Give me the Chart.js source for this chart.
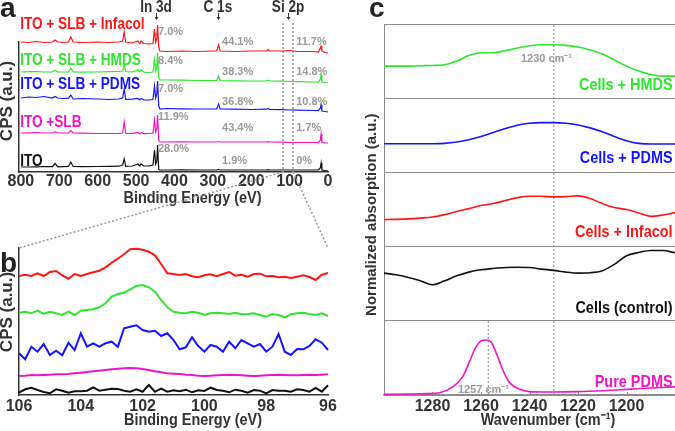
<!DOCTYPE html>
<html>
<head>
<meta charset="utf-8">
<script src="https://cdn.jsdelivr.net/npm/chart.js@4.4.1/dist/chart.umd.min.js"></script>
<style>
  html, body { margin: 0; padding: 0; background: #fff; }
  #fig { position: relative; width: 675px; height: 431px; overflow: hidden; }
  #fig canvas { position: absolute; }
</style>
</head>
<body>
<div id="fig">
  <canvas id="chartA" width="340" height="210" style="left:0;top:0"></canvas>
  <canvas id="chartB" width="340" height="221" style="left:0;top:210px"></canvas>
  <canvas id="chartC" width="335" height="431" style="left:340px;top:0"></canvas>
  <canvas id="overlay" width="675" height="431" style="left:0;top:0"></canvas>
</div>
<script>
Chart.defaults.animation = false;
Chart.defaults.responsive = false;
Chart.defaults.plugins.legend.display = false;
Chart.defaults.plugins.tooltip.enabled = false;

const SANS = "'Liberation Sans', Arial, sans-serif";
const SQUEEZE = 0.85; // no condensed face installed, so labels get squeezed by hand
const RED = '#ff1414', GREEN = '#2ee62e', BLUE = '#1414ff', MAGENTA = '#f014c8', BLACK = '#111111';
const GREY = '#9a9a9a', INK = '#333333', FRAME = '#8c8c8c';

// ---- panel a: XPS survey (stacked, arbitrary offsets) ----
const surveyEnergy = [800, 780, 760, 740, 718, 711, 704, 690, 676, 670, 664, 640, 600, 570, 545, 535, 531, 527, 510, 495,
  490, 487, 480, 465, 456, 452, 449, 446, 444, 441, 438, 420, 380, 340, 300, 290, 285, 281, 240, 200,
  160, 156, 152, 120, 100, 80, 40, 25, 20, 18, 16, 8, 0];
const surveyInfacol = [130, 129.5, 130.5, 129.5, 130, 132, 130, 129.5, 130, 135, 130, 129.5, 130, 129.5, 130, 131, 140, 130, 129, 131,
  128.5, 131, 128.5, 128, 128.5, 143, 130, 133, 147, 125, 121, 120.5, 121, 120.5, 121, 121, 127, 121, 120.5, 121,
  121, 122.5, 121, 121, 121.5, 120.5, 120.5, 120, 124, 126, 121, 119.5, 119];
const surveyHmds = [100, 100.3, 100.5, 100, 100.2, 101.5, 100, 100, 100.2, 104, 100, 99.8, 100, 100.3, 100.5, 101, 107, 100.5, 100, 102,
  100, 102, 99.8, 99.5, 100, 112, 101, 104, 119, 94, 92, 92, 91.8, 91.5, 91.5, 91.5, 96, 91.5, 91.2, 91,
  91.2, 91.8, 91, 90.8, 90.5, 90.3, 90, 89.8, 93, 97, 90, 89.5, 89];
const surveyPdms = [74, 75, 74.5, 75.5, 74, 75.5, 74, 73.5, 73.8, 77, 73, 73.5, 73, 72.5, 73, 74, 83, 72.5, 72.8, 73.5,
  72, 73.5, 72, 72, 72.5, 86, 74, 78, 91, 66, 63, 63.5, 63.2, 63, 63, 63, 68, 63, 62.8, 62.5,
  62.8, 63.5, 62.5, 62.3, 62, 61.8, 61.5, 61.3, 64, 67, 61, 60.5, 60];
const surveySlb = [39, 39.2, 39.5, 39, 39.2, 40, 39, 39, 39.2, 41.5, 39, 38.8, 38.5, 38.5, 38.7, 39, 50, 38.5, 38.7, 39.5,
  38, 39.5, 38.3, 38.5, 38.8, 52, 40, 44, 57, 32, 30, 30, 30.2, 30, 30, 30, 30.5, 30, 30, 30,
  30, 30.3, 30, 29.8, 29.5, 29.5, 29.5, 29.3, 32, 38, 29.5, 29.2, 29];
const surveyIto = [5, 5, 5.2, 5.5, 5.3, 8.5, 5.2, 5.3, 5.5, 10, 5.5, 5.4, 5.5, 5.6, 5.8, 7, 13, 5.6, 6, 8,
  6, 8, 6, 6.2, 7, 22, 8, 11, 27, 2.5, 2, 2, 2.1, 2, 2, 2, 2.6, 2, 2, 2,
  2, 2.3, 2, 2, 2, 2, 2, 2.2, 4, 9, 2, 1.5, 1];
const surveyTicks = [800, 700, 600, 500, 400, 300, 200, 100, 0];
const sampleNames = ['ITO + SLB + Infacol', 'ITO + SLB + HMDS', 'ITO + SLB + PDMS', 'ITO +SLB', 'ITO'];
const inPct = ['7.0%', '8.4%', '7.0%', '11.9%', '28.0%'];
const cPct = ['44.1%', '38.3%', '36.8%', '43.4%', '1.9%'];
const siPct = ['11.7%', '14.8%', '10.8%', '1.7%', '0%'];
const siWindow = [117, 91];

// ---- panel b: Si 2p high resolution ----
const siEnergy = [106, 105.8, 105.6, 105.4, 105.2, 105, 104.8, 104.6, 104.4, 104.2, 104, 103.8, 103.6, 103.4, 103.2, 103, 102.8,
  102.6, 102.4, 102.2, 102, 101.8, 101.6, 101.4, 101.2, 101, 100.8, 100.6, 100.4, 100.2, 100, 99.8, 99.6, 99.4,
  99.2, 99, 98.8, 98.6, 98.4, 98.2, 98, 97.8, 97.6, 97.4, 97.2, 97, 96.8, 96.6, 96.4, 96.2, 96];
const siInfacol = [119, 120.3, 119, 121.7, 119, 123, 124, 119.7, 116.3, 121, 119, 121, 122.7, 124.3, 127.7, 132.3, 136.3,
  140.7, 145.7, 146.3, 145.3, 143.3, 139.7, 131, 121.7, 121, 120, 121, 118.7, 117.7, 119.7, 120.7, 118.7, 121,
  123, 119.3, 120.3, 118.3, 121, 121.3, 118.7, 119, 117.7, 118.3, 117, 118.3, 119.7, 118, 115, 120.3, 122];
const siHmds = [82.3, 83.3, 81.7, 84.3, 81, 83.3, 81.7, 80, 83.3, 80, 84.3, 85, 85.7, 87.7, 91.7, 98.3, 101,
  102.3, 105.7, 109, 110, 107.7, 103.3, 95, 87.7, 83.3, 82.3, 81.7, 83.3, 82.3, 80, 81.7, 82.3, 81.7,
  81, 82.3, 80.7, 81, 81.7, 80, 78.3, 81, 80, 77.7, 80.7, 81.7, 82.3, 81, 80, 81.7, 79];
const siPdms = [41.7, 35.7, 48.3, 43.3, 51, 40, 44.3, 39.7, 52.3, 45, 61.7, 48.3, 51.7, 48.3, 51.7, 53.3, 48.3,
  66.7, 68.3, 69.7, 65, 63.3, 64.3, 59, 61.7, 55, 45.7, 47.7, 57.7, 49, 43.3, 50, 48.3, 43.3,
  53.3, 46.7, 55, 51.7, 48.3, 51, 43.3, 48.3, 61, 43.3, 40, 46, 45.7, 49, 55.7, 52.3, 45];
const siSlb = [19, 19.3, 20, 19.7, 20, 20.3, 20.7, 20.7, 21, 21.7, 22.3, 23, 23.7, 24.3, 25, 25.7, 26.3,
  26.7, 27, 26.7, 26, 25, 23.7, 22.7, 21.7, 21.3, 21, 20.3, 20, 19.3, 19, 19.3, 19.7, 20,
  20.3, 20, 19.7, 19.3, 19, 19.3, 19.7, 20, 20.3, 20, 19.7, 19.7, 20, 20.3, 20, 20.3, 20.7];
const siIto = [2.3, 5.7, 7.3, 5, 3, 1.7, 5.7, 4.3, 2.3, 3.7, 3.7, 4.3, 7.7, 4.3, 5.3, 6.3, 6,
  4.3, 3.3, 5.7, 3.3, 10, 3.3, 6.3, 3.3, 4.7, 3.7, 5.3, 2.7, 4.7, 4, 7.3, 5, 4.3,
  2.7, 5.3, 4.3, 2.3, 5, 4.3, 1.7, 5, 4.3, 4.3, 3.3, 5.7, 5, 3.3, 7, 3.3, 9.7];
const siTicks = [106, 104, 102, 100, 98, 96];

// ---- panel c: FTIR, normalised per sub-panel ----
const wavenumber = [1300, 1295, 1290, 1285, 1280, 1275, 1270, 1265, 1260, 1255, 1250, 1245, 1240,
  1235, 1230, 1225, 1220, 1215, 1210, 1205, 1200, 1195, 1190, 1185, 1180];
const irHmds = [.432, .432, .432, .437, .441, .45, .5, .575, .613, .613, .64, .676, .707,
  .721, .721, .712, .689, .649, .595, .514, .432, .365, .32, .297, .297];
const irPdms = [.387, .387, .387, .387, .387, .391, .409, .44, .484, .538, .591, .636, .662,
  .671, .671, .662, .64, .6, .547, .484, .427, .391, .382, .382, .382];
const irInfacol = [.364, .367, .373, .384, .398, .431, .472, .512, .553, .58, .62, .66, .678,
  .678, .67, .674, .683, .647, .58, .526, .499, .454, .408, .425, .458];
const irControl = [.643, .62, .584, .539, .485, .539, .606, .656, .687, .705, .718, .721, .718,
  .697, .68, .656, .643, .647, .674, .761, .876, .92, .947, .947, .916];
// pure PDMS is read more finely around its narrow band
const pureWavenumber = [1300, 1290, 1282.5, 1277, 1271.5, 1267.5, 1265, 1262, 1260, 1258, 1256, 1253.5,
  1251, 1248.5, 1244, 1240, 1235, 1230, 1220, 1210, 1200, 1190, 1180];
const irPure = [.009, .013, .018, .031, .112, .247, .43, .651, .728, .741, .719, .55,
  .337, .18, .077, .045, .04, .04, .045, .058, .076, .095, .11];
const wnTicks = [1280, 1260, 1240, 1220, 1200];
const irNames = ['Cells + HMDS', 'Cells + PDMS', 'Cells + Infacol', 'Cells (control)', 'Pure PDMS'];
const irColors = [GREEN, BLUE, RED, BLACK, MAGENTA];
const irMarks = [1230, 1257];

function points(xs, ys) {
  return xs.map((x, i) => ({ x: x, y: ys[i] }));
}

function trace(xs, ys, color, width, axis) {
  return {
    data: points(xs, ys),
    borderColor: color,
    borderWidth: width,
    pointRadius: 0,
    fill: false,
    clip: false,
    yAxisID: axis || 'y'
  };
}

function makeNotes(cfg) {
  return {
    id: 'notes',
    beforeDatasetsDraw(chart) {
      const ctx = chart.ctx, xs = chart.scales.x, area = chart.chartArea;
      ctx.save();
      (cfg.guides || []).forEach(g => {
        const px = xs.getPixelForValue(g.x);
        ctx.beginPath();
        ctx.setLineDash([2, 2]);
        ctx.lineWidth = g.width || 1;
        ctx.strokeStyle = g.color || GREY;
        ctx.moveTo(px, chart.scales[g.axis0 || 'y'].getPixelForValue(g.y0));
        ctx.lineTo(px, chart.scales[g.axis1 || 'y'].getPixelForValue(g.y1));
        ctx.stroke();
      });
      ctx.setLineDash([]);
      // short inward tick marks on the bottom axis
      (cfg.innerTicks || []).forEach(v => {
        const px = Math.round(xs.getPixelForValue(v)) + 0.5;
        ctx.beginPath();
        ctx.lineWidth = 1;
        ctx.strokeStyle = FRAME;
        ctx.moveTo(px, area.bottom);
        ctx.lineTo(px, area.bottom - 3);
        ctx.stroke();
      });
      ctx.restore();
    },
    afterDatasetsDraw(chart) {
      const ctx = chart.ctx, xs = chart.scales.x, area = chart.chartArea;
      ctx.save();
      (cfg.arrows || []).forEach(a => {
        const ys = chart.scales.y;
        const px = Math.round(xs.getPixelForValue(a.x)) + 0.5;
        const top = ys.getPixelForValue(a.y0), tip = ys.getPixelForValue(a.y1);
        ctx.strokeStyle = INK;
        ctx.fillStyle = INK;
        ctx.lineWidth = 1;
        ctx.beginPath();
        ctx.moveTo(px, top);
        ctx.lineTo(px, tip - 2);
        ctx.stroke();
        ctx.beginPath();
        ctx.moveTo(px - 2, tip - 3);
        ctx.lineTo(px + 2, tip - 3);
        ctx.lineTo(px, tip);
        ctx.closePath();
        ctx.fill();
      });
      (cfg.texts || []).forEach(t => {
        let px, py;
        if (t.below != null) {
          // axis title: centred under the plot, shifted like the original
          px = (area.left + area.right) / 2 + (t.dx || 0);
          py = area.bottom + t.below;
        } else {
          px = xs.getPixelForValue(t.x);
          py = chart.scales[t.axis || 'y'].getPixelForValue(t.y);
        }
        ctx.save();
        ctx.font = t.font;
        ctx.fillStyle = t.color;
        ctx.textBaseline = 'middle';
        ctx.translate(px, py);
        if (t.rotate) {
          ctx.rotate(-Math.PI / 2);
          ctx.textAlign = 'center';
        } else {
          ctx.textAlign = t.align || 'left';
        }
        if (t.squeeze) ctx.scale(SQUEEZE, 1);
        ctx.fillText(t.text, 0, 0);
        ctx.restore();
      });
      ctx.restore();
    }
  };
}

function xAxis(min, max, tickList, height, pad, borderColor) {
  return {
    type: 'linear',
    reverse: true,
    min: min,
    max: max,
    afterBuildTicks: s => { s.ticks = tickList.map(v => ({ value: v })); },
    afterFit: s => { s.height = height; },
    grid: { display: false, drawTicks: false },
    border: { color: borderColor, width: 1.5 },
    ticks: {
      padding: pad, color: INK, autoSkip: false, maxRotation: 0,
      font: { family: SANS, size: 16, weight: 'bold' },
      callback: v => String(v)
    }
  };
}

function plainY(max) {
  return {
    type: 'linear',
    min: 0,
    max: max,
    afterFit: s => { s.width = 0; },
    grid: { display: false, drawTicks: false },
    border: { color: INK, width: 1.5 },
    ticks: { display: false }
  };
}

const colors = [RED, GREEN, BLUE, MAGENTA, BLACK];
const labelFont = `bold 16px ${SANS}`;
const titleFont = `bold 17px ${SANS}`;
const pctFont = `bold 11px ${SANS}`;

// panel a
const nameY = [147, 111, 87, 49, 10];
const inY = [140, 111, 83, 55, 23];
const baseY = [130, 100, 70, 44, 11];
const textsA = [];
sampleNames.forEach((n, i) => textsA.push({ text: n, x: 802, y: nameY[i], color: colors[i], font: labelFont, squeeze: true }));
inPct.forEach((p, i) => textsA.push({ text: p, x: 443, y: inY[i], color: GREY, font: pctFont }));
cPct.forEach((p, i) => textsA.push({ text: p, x: 276, y: baseY[i], color: GREY, font: pctFont }));
siPct.forEach((p, i) => textsA.push({ text: p, x: 83, y: baseY[i], color: GREY, font: pctFont }));
textsA.push({ text: 'In 3d', x: 448, y: 164, color: INK, font: labelFont, align: 'center', squeeze: true });
textsA.push({ text: 'C 1s', x: 287, y: 164, color: INK, font: labelFont, align: 'center', squeeze: true });
textsA.push({ text: 'Si 2p', x: 104, y: 164, color: INK, font: labelFont, align: 'center', squeeze: true });
textsA.push({ text: 'CPS (a.u.)', x: 836, y: 71, color: INK, font: `bold 17px ${SANS}`, rotate: true });
textsA.push({ text: 'Binding Energy (eV)', below: 26, dx: 19, color: INK, font: titleFont, align: 'center', squeeze: true });

const chartA = new Chart(document.getElementById('chartA'), {
  type: 'line',
  data: {
    datasets: [
      trace(surveyEnergy, surveyInfacol, RED, 1.2),
      trace(surveyEnergy, surveyHmds, GREEN, 1.2),
      trace(surveyEnergy, surveyPdms, BLUE, 1.2),
      trace(surveyEnergy, surveySlb, MAGENTA, 1.2),
      trace(surveyEnergy, surveyIto, BLACK, 1.2)
    ]
  },
  options: {
    layout: { padding: { left: 19, right: 12, top: 42, bottom: 0 } },
    scales: {
      x: xAxis(0, 805, surveyTicks, 38, 0, INK),
      y: plainY(130)
    }
  },
  plugins: [makeNotes({
    guides: siWindow.map(e => ({ x: e, y0: 149, y1: 0, width: 1.5 })),
    arrows: [{ x: 448, y0: 159, y1: 152 }, { x: 287, y0: 159, y1: 152 }, { x: 104, y0: 159, y1: 152 }],
    texts: textsA
  })]
});

// panel b
const chartB = new Chart(document.getElementById('chartB'), {
  type: 'line',
  data: {
    datasets: [
      trace(siEnergy, siInfacol, RED, 2),
      trace(siEnergy, siHmds, GREEN, 2),
      trace(siEnergy, siPdms, BLUE, 2),
      trace(siEnergy, siSlb, MAGENTA, 2),
      trace(siEnergy, siIto, BLACK, 2)
    ]
  },
  options: {
    layout: { padding: { left: 19, right: 12, top: 38, bottom: 0 } },
    scales: {
      x: xAxis(96, 106, siTicks, 36, 2, INK),
      y: plainY(147)
    }
  },
  plugins: [makeNotes({
    texts: [
      { text: 'CPS (a.u.)', x: 106.39, y: 83, color: INK, font: `bold 17px ${SANS}`, rotate: true },
      { text: 'Binding Energy (eV)', below: 25, dx: 19.5, color: INK, font: titleFont, align: 'center', squeeze: true }
    ]
  })]
});

// panel c
function irAxis() {
  return {
    type: 'linear',
    position: 'left',
    stack: 'ir',
    stackWeight: 1,
    min: 0,
    max: 1,
    afterFit: s => { s.width = 0; },
    grid: { color: FRAME, drawTicks: false },
    border: { color: FRAME },
    ticks: { display: false, stepSize: 1 }
  };
}
const irAxes = ['yH', 'yP', 'yI', 'yC', 'yU'];
const irLabelY = [0.175, 0.19, 0.19, 0.175, 0.175];
const textsC = irNames.map((n, i) => ({
  text: n, x: 1181, y: irLabelY[i], axis: irAxes[i], color: irColors[i],
  font: `bold 17px ${SANS}`, align: 'right', squeeze: true
}));
textsC.push({ text: '1230 cm⁻¹', x: 1233, y: 0.526, axis: 'yH', color: GREY, font: `bold 11px ${SANS}`, align: 'center' });
textsC.push({ text: '1257 cm⁻¹', x: 1259, y: 0.07, axis: 'yU', color: GREY, font: `bold 11px ${SANS}`, align: 'center' });
textsC.push({ text: 'Normalized absorption (a.u.)', x: 1305, y: 0.43, axis: 'yI', color: INK, font: `bold 15px ${SANS}`, rotate: true });
textsC.push({ text: 'Wavenumber (cm⁻¹)', below: 25, dx: 18.5, color: INK, font: titleFont, align: 'center', squeeze: true });

const smooth = { cubicInterpolationMode: 'monotone' };
const chartC = new Chart(document.getElementById('chartC'), {
  type: 'line',
  data: {
    datasets: [
      Object.assign(trace(pureWavenumber, irPure, MAGENTA, 1.6, 'yU'), smooth),
      Object.assign(trace(wavenumber, irControl, BLACK, 1.6, 'yC'), smooth),
      Object.assign(trace(wavenumber, irInfacol, RED, 1.6, 'yI'), smooth),
      Object.assign(trace(wavenumber, irPdms, BLUE, 1.6, 'yP'), smooth),
      Object.assign(trace(wavenumber, irHmds, GREEN, 1.6, 'yH'), smooth)
    ]
  },
  options: {
    layout: { padding: { left: 44, right: 0, top: 24, bottom: 0 } },
    scales: {
      x: xAxis(1180, 1300, wnTicks, 36, 1.5, FRAME),
      yU: irAxis(),
      yC: irAxis(),
      yI: irAxis(),
      yP: irAxis(),
      yH: irAxis()
    }
  },
  plugins: [makeNotes({
    guides: [
      { x: irMarks[0], y0: 0, axis0: 'yU', y1: 1, axis1: 'yH', color: '#8a8a8a' },
      { x: irMarks[1], y0: 0, axis0: 'yU', y1: 1, axis1: 'yU', color: '#8a8a8a' }
    ],
    innerTicks: wnTicks,
    texts: textsC
  })]
});

// overlay: panel letters and zoom connectors from a to b
const ov = document.getElementById('overlay').getContext('2d');
ov.font = `bold 28px ${SANS}`;
ov.fillStyle = '#222222';
ov.fillText('a', 0, 17);
ov.fillText('b', 0, 272);
ov.fillText('c', 369, 17);
const ax = chartA.scales.x, aBottom = chartA.chartArea.bottom;
const bArea = chartB.chartArea, bTop = 210;
ov.setLineDash([2, 2]);
ov.strokeStyle = GREY;
ov.lineWidth = 1.5;
ov.beginPath();
ov.moveTo(ax.getPixelForValue(siWindow[0]), aBottom);
ov.lineTo(bArea.left, bTop + bArea.top);
ov.stroke();
ov.beginPath();
ov.moveTo(ax.getPixelForValue(siWindow[1]), aBottom);
ov.lineTo(bArea.right, bTop + bArea.top);
ov.stroke();
</script>
</body>
</html>
